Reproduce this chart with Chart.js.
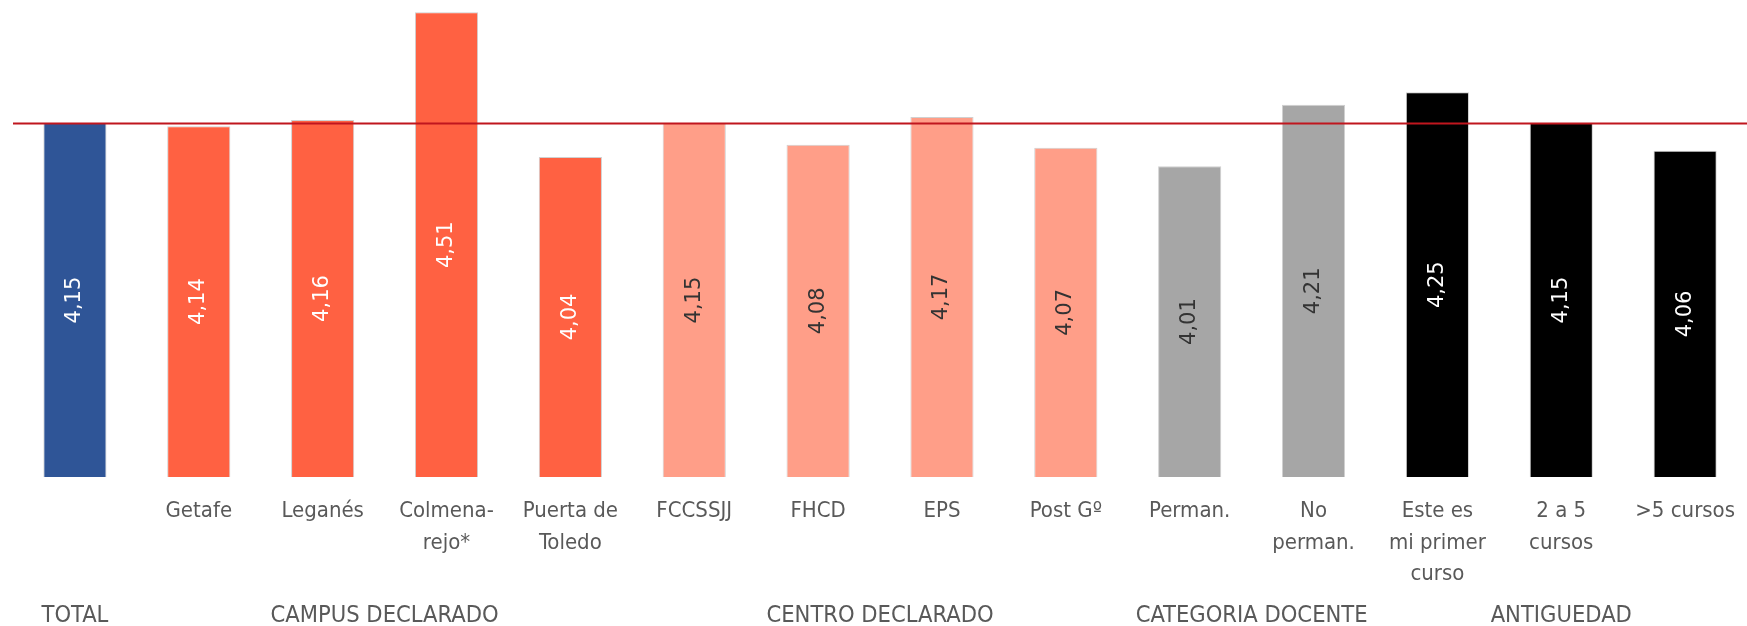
<!DOCTYPE html>
<html>
<head>
<meta charset="utf-8">
<script src="https://cdn.jsdelivr.net/npm/chart.js@4/dist/chart.umd.min.js"></script>
<style>
  html, body { margin: 0; padding: 0; background: #fff; overflow: hidden; }
  canvas { display: block; }
</style>
</head>
<body>
<canvas id="chart" width="1754" height="626" style="width:1754px;height:626px"></canvas>
<script>
// data
const categories = [
  "", "Getafe", "Leganés", ["Colmena-", "rejo*"], ["Puerta de", "Toledo"],
  "FCCSSJJ", "FHCD", "EPS", "Post Gº",
  "Perman.", ["No", "perman."],
  ["Este es", "mi primer", "curso"], ["2 a 5", "cursos"], ">5 cursos"
];
const values = [4.15, 4.14, 4.16, 4.51, 4.04, 4.15, 4.08, 4.17, 4.07, 4.01, 4.21, 4.25, 4.15, 4.06];
const groupNames = ["TOTAL", "CAMPUS DECLARADO", "CENTRO DECLARADO", "CATEGORIA DOCENTE", "ANTIGUEDAD"];
const groupFirst = [0, 1, 5, 9, 11];
const groupLast = [0, 4, 8, 10, 13];
const referenceValue = 4.15;

// styles
const groupFill = ["#2F5597", "#FF6142", "#FF9E88", "#A6A6A6", "#000000"];
const groupText = ["#ffffff", "#ffffff", "#333333", "#333333", "#ffffff"];

function groupOf(i) {
  for (let g = 0; g < groupFirst.length; g++) {
    if (i >= groupFirst[g] && i <= groupLast[g]) return g;
  }
  return 0;
}
const barColors = values.map((v, i) => groupFill[groupOf(i)]);

const fmt = (v) => v.toFixed(2).replace(".", ",");

// red reference line, value labels and group labels
const extras = {
  id: "extras",
  afterDatasetsDraw(chart) {
    const ctx = chart.ctx;
    const area = chart.chartArea;
    const y = chart.scales.y;
    const x = chart.scales.x;

    // value labels, rotated, centred in each bar
    const basePx = y.getPixelForValue(y.min);
    ctx.save();
    ctx.font = '21px "DejaVu Sans"';
    ctx.textAlign = "center";
    ctx.textBaseline = "middle";
    values.forEach((v, i) => {
      const cx = x.getPixelForValue(i);
      const cy = (y.getPixelForValue(v) + basePx) / 2;
      ctx.save();
      ctx.translate(cx, cy);
      ctx.rotate(-Math.PI / 2);
      ctx.fillStyle = groupText[groupOf(i)];
      ctx.fillText(fmt(v), 0, 0);
      ctx.restore();
    });
    ctx.restore();

    // reference line
    const ry = Math.round(y.getPixelForValue(referenceValue)) + 0.5;
    ctx.save();
    ctx.strokeStyle = "#C0161E";
    ctx.lineWidth = 2;
    ctx.beginPath();
    ctx.moveTo(area.left, ry);
    ctx.lineTo(chart.width, ry);
    ctx.stroke();
    ctx.restore();

    // group labels under the category labels
    ctx.save();
    ctx.font = '23.5px "DejaVu Sans Condensed", "DejaVu Sans"';
    ctx.fillStyle = "#595959";
    ctx.textAlign = "center";
    ctx.textBaseline = "middle";
    groupNames.forEach((name, g) => {
      const cx = (x.getPixelForValue(groupFirst[g]) + x.getPixelForValue(groupLast[g])) / 2;
      ctx.fillText(name, cx, 616);
    });
    ctx.restore();
  }
};

new Chart(document.getElementById("chart"), {
  type: "bar",
  data: {
    labels: categories,
    datasets: [{
      data: values,
      backgroundColor: barColors,
      borderColor: "#d0d0d0",
      borderWidth: 1,
      barPercentage: 0.51,
      categoryPercentage: 1.0
    }]
  },
  options: {
    responsive: false,
    maintainAspectRatio: false,
    animation: false,
    layout: { padding: { left: 13, right: 0, top: 0, bottom: 0 } },
    plugins: {
      legend: { display: false },
      tooltip: { enabled: false }
    },
    scales: {
      y: {
        display: false,
        min: 3,
        max: 4.55
      },
      x: {
        grid: { display: false, drawTicks: false },
        border: { display: false },
        ticks: {
          autoSkip: false,
          maxRotation: 0,
          minRotation: 0,
          padding: 19,
          color: "#595959",
          font: { family: '"DejaVu Sans Condensed", "DejaVu Sans"', size: 22, lineHeight: 1.43 }
        },
        afterFit(scale) { scale.height = 149; }
      }
    }
  },
  plugins: [extras]
});
</script>
</body>
</html>
